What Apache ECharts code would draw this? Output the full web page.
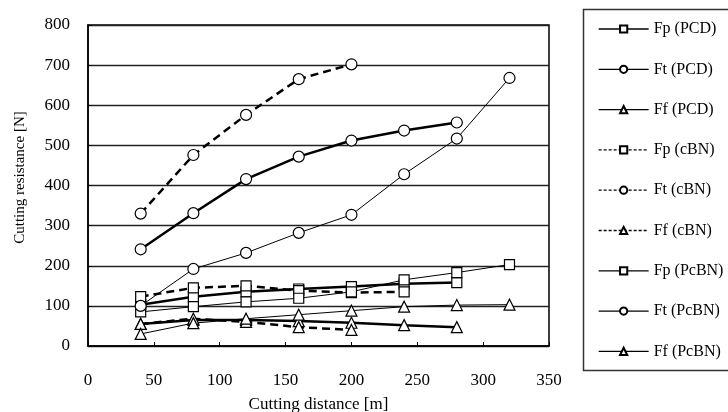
<!DOCTYPE html>
<html>
<head>
<meta charset="utf-8">
<script src="https://cdn.jsdelivr.net/npm/echarts@6/dist/echarts.min.js"></script>
<style>html,body{margin:0;padding:0;background:#fff;}#c{width:728px;height:412px;}</style>
</head>
<body>
<div id="c"></div>
<script>
// distances [m]
const dPCD = [40, 80, 120, 160, 200, 240, 280];
const dCBN_Ft = [40, 80, 120, 160, 200];
const dCBN_Fp = [40, 80, 120, 160, 200, 240];
const dCBN_Ff = [40, 80, 120, 160, 200];
const dPcBN = [40, 80, 120, 160, 200, 240, 280, 320];

// cutting resistance [N]
const FpPCD = [103, 123, 135, 142, 148, 155, 158];
const FtPCD = [241, 331, 416, 472, 512, 537, 557];
const FfPCD = [55, 65, 65, 62, 58, 52, 47];
const FpCBN = [123, 145, 150, 138, 133, 135];
const FtCBN = [330, 476, 576, 665, 702];
const FfCBN = [55, 68, 60, 47, 40];
const FpPcBN = [85, 98, 110, 119, 135, 165, 183, 203];
const FtPcBN = [100, 192, 232, 282, 327, 428, 517, 668];
const FfPcBN = [30, 57, 68, 78, 88, 98, 102, 103];

const xTicks = [0, 50, 100, 150, 200, 250, 300, 350];
const yTicks = [0, 100, 200, 300, 400, 500, 600, 700, 800];

const font = '"Liberation Serif", "Times New Roman", serif';

function pairs(xs, ys) { return xs.map((x, i) => [x, ys[i]]); }

function mk(name, xs, ys, symbol, type, width) {
  return {
    name: name,
    type: 'line',
    data: pairs(xs, ys),
    symbol: symbol,
    symbolSize: symbol === 'circle' ? 11 : (symbol === 'rect' ? 10 : 11),
    showSymbol: true,
    lineStyle: { color: '#000', width: width, type: type === 'dashed' ? [8, 5] : 'solid' },
    itemStyle: { color: '#fff', borderColor: '#000', borderWidth: 1.2 },
    emphasis: { disabled: true },
    animation: false,
    _dashed: type === 'dashed'
  };
}

const series = [
  mk('Fp (PCD)', dPCD, FpPCD, 'rect', 'solid', 2.5),
  mk('Ft (PCD)', dPCD, FtPCD, 'circle', 'solid', 2.5),
  mk('Ff (PCD)', dPCD, FfPCD, 'triangle', 'solid', 2.5),
  mk('Fp (cBN)', dCBN_Fp, FpCBN, 'rect', 'dashed', 2.5),
  mk('Ft (cBN)', dCBN_Ft, FtCBN, 'circle', 'dashed', 2.5),
  mk('Ff (cBN)', dCBN_Ff, FfCBN, 'triangle', 'dashed', 2.5),
  mk('Fp (PcBN)', dPcBN, FpPcBN, 'rect', 'solid', 1),
  mk('Ft (PcBN)', dPcBN, FtPcBN, 'circle', 'solid', 1),
  mk('Ff (PcBN)', dPcBN, FfPcBN, 'triangle', 'solid', 1)
];

const legendData = series.map(s => ({
  name: s.name,
  lineStyle: { width: 1.3, type: s._dashed ? [3, 2] : 'solid' }
}));
series.forEach(s => { delete s._dashed; });

const chart = echarts.init(document.getElementById('c'), null, { renderer: 'canvas' });
chart.setOption({
  backgroundColor: '#fff',
  animation: false,
  grid: { left: 88, right: 179, top: 25, bottom: 66, containLabel: false, outerBoundsMode: 'none', show: true, borderColor: '#000', borderWidth: 1.5, backgroundColor: 'transparent' },
  xAxis: {
    type: 'value', min: xTicks[0], max: xTicks[xTicks.length - 1], interval: 50,
    name: 'Cutting distance [m]', nameLocation: 'middle', nameGap: 50,
    nameTextStyle: { fontFamily: font, fontSize: 17, color: '#000' },
    axisLine: { lineStyle: { color: '#000', width: 1.5 } },
    axisTick: { inside: true, length: 4, lineStyle: { color: '#000', width: 1 } },
    axisLabel: { fontFamily: font, fontSize: 17, color: '#000', margin: 26 },
    splitLine: { show: false }
  },
  yAxis: {
    type: 'value', min: yTicks[0], max: yTicks[yTicks.length - 1], interval: 100,
    name: 'Cutting resistance [N]', nameLocation: 'middle', nameGap: 60,
    nameTextStyle: { fontFamily: font, fontSize: 15, color: '#000', padding: [0, 0, 0, 16] },
    axisLine: { lineStyle: { color: '#000', width: 1.5 } },
    axisTick: { inside: true, length: 4, lineStyle: { color: '#000', width: 1 } },
    axisLabel: { fontFamily: font, fontSize: 17, color: '#000', margin: 18 },
    splitLine: { show: true, lineStyle: { color: '#222', width: 1.3 } }
  },
  legend: {
    orient: 'vertical', left: 593, top: 16,
    itemWidth: 50, itemHeight: 9, itemGap: 24.3,
    lineStyle: { width: 1.3 },
    textStyle: { fontFamily: font, fontSize: 16, color: '#000' },
    data: legendData,
    selectedMode: false
  },
  graphic: [{
    type: 'rect', left: 581, top: 7,
    shape: { x: 0, y: 0, width: 200, height: 361 },
    style: { fill: 'none', stroke: '#333', lineWidth: 1.5 },
    z: -1
  }],
  series: series
});
</script>
</body>
</html>
